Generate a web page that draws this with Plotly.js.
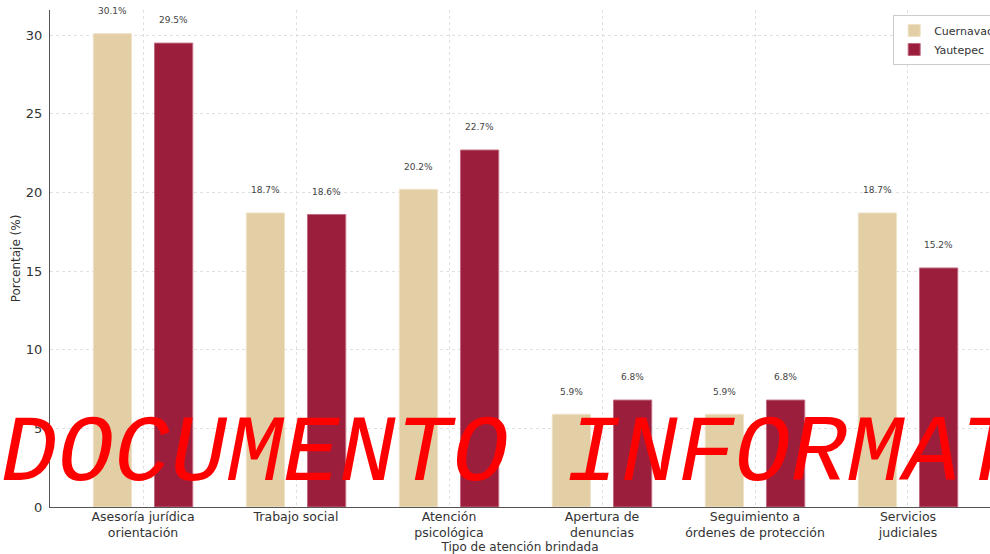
<!DOCTYPE html>
<html>
<head>
<meta charset="utf-8">
<script src="https://cdn.plot.ly/plotly-3.0.1.min.js"></script>
<style>html,body{margin:0;padding:0;background:#fff;}#chart{width:990px;height:554px;}</style>
</head>
<body>
<div id="chart"></div>
<script>
const categories = [
  "Asesoría jurídica<br>orientación",
  "Trabajo social",
  "Atención<br>psicológica",
  "Apertura de<br>denuncias",
  "Seguimiento a<br>órdenes de protección",
  "Servicios<br>judiciales"
];
const seriesNames = ["Cuernavaca", "Yautepec"];
const cuernavaca = [30.1, 18.7, 20.2, 5.9, 5.9, 18.7];
const yautepec = [29.5, 18.6, 22.7, 6.8, 6.8, 15.2];
const yTicks = [0, 5, 10, 15, 20, 25, 30];
const watermark = "DOCUMENTO\u00a0INFORMATIVO";

const colors = ["#e3cfa6", "#9b1f3d"];
const edge = ["#efe2c6", "#c06a80"];
const offsets = [-0.325, 0.075];
const centers = [-0.2, 0.2];
const allSeries = [cuernavaca, yautepec];

const traces = allSeries.map((vals, s) => ({
  type: "bar",
  name: seriesNames[s],
  x: categories,
  y: vals,
  width: 0.25,
  offset: offsets[s],
  marker: {color: colors[s], line: {color: edge[s], width: 1}},
  hoverinfo: "skip"
}));

const labelAnnotations = [];
allSeries.forEach((vals, s) => {
  vals.forEach((v, i) => {
    labelAnnotations.push({
      x: i + centers[s], y: v + 1, xref: "x", yref: "y",
      text: v.toFixed(1) + "%", showarrow: false,
      xanchor: "center", yanchor: "bottom",
      font: {family: "DejaVu Sans", size: 9, color: "#444"}
    });
  });
});

labelAnnotations.push({
  xref: "paper", yref: "paper", x: -0.054, y: 0.105,
  xanchor: "left", yanchor: "middle", showarrow: false,
  text: watermark,
  font: {family: "Liberation Mono, Courier New, monospace", size: 94, color: "#ff0000", style: "italic"}
});

const layout = {
  width: 990, height: 554,
  margin: {l: 50, r: 0, t: 10, b: 47, autoexpand: false},
  paper_bgcolor: "#fff", plot_bgcolor: "#fff",
  font: {family: "DejaVu Sans", color: "#333"},
  showlegend: true,
  legend: {
    x: 0.897, y: 0.99, xanchor: "left", yanchor: "top",
    bgcolor: "#fff", bordercolor: "#cccccc", borderwidth: 1,
    font: {size: 11, color: "#333"}, itemwidth: 30, tracegroupgap: 0
  },
  xaxis: {
    type: "category",
    range: [-0.608, 5.536],
    showline: true, linecolor: "#555", linewidth: 1,
    showgrid: true, gridcolor: "#d8d8d8", griddash: "dot", gridwidth: 0.8,
    ticks: "", ticklabelstandoff: -2, tickfont: {size: 12.5, color: "#333"},
    title: {text: "Tipo de atención brindada", font: {size: 12, color: "#333"}, standoff: 11},
    zeroline: false, fixedrange: true
  },
  yaxis: {
    range: [0, 31.605],
    tickvals: yTicks,
    showline: true, linecolor: "#555", linewidth: 1,
    showgrid: true, gridcolor: "#d8d8d8", griddash: "dot", gridwidth: 0.8,
    ticks: "", ticklabelstandoff: 4,
    tickfont: {size: 13, color: "#333"},
    title: {text: "Porcentaje (%)", font: {size: 12, color: "#333"}, standoff: 2},
    zeroline: false, fixedrange: true
  },
  annotations: labelAnnotations,
  bargap: 0, barmode: "overlay"
};

Plotly.newPlot("chart", traces, layout, {displayModeBar: false, staticPlot: true});
</script>
</body>
</html>
